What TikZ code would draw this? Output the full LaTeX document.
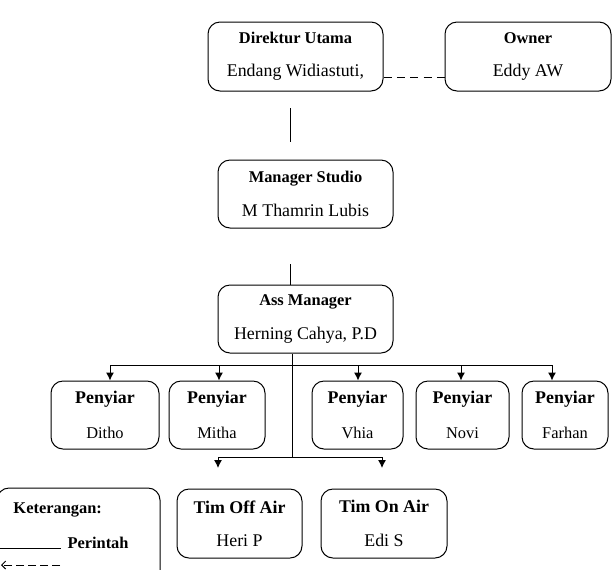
\documentclass[tikz,border=0pt]{standalone}
\usepackage{fontspec}
\setmainfont{Liberation Serif}
\usetikzlibrary{arrows.meta}

\newcommand{\kecil}{\fontsize{12.3}{15}\selectfont}
\newcommand{\besar}{\fontsize{13.4}{16}\selectfont}

\tikzset{
  jabatan/.style={draw, rounded corners=9pt, align=center, inner sep=0pt,
    minimum width=131.25pt, minimum height=51.75pt, font=\besar},
  penyiar/.style={jabatan, minimum height=51pt, font=\kecil},
  tim/.style={jabatan, minimum height=51.75pt}
}

\begin{document}
\begin{tikzpicture}[x=0.75pt,y=-0.75pt,line width=0.75pt,>={Latex[length=6pt,width=6pt]}]
  \useasboundingbox (0,0) rectangle (613,569);
  \clip (0,0) rectangle (613,569);

  % pimpinan
  \node[jabatan] (dir) at (295.5,56.5) {{\kecil\bfseries Direktur Utama}\\[9pt]Endang Widiastuti,};
  \node[jabatan, minimum width=124.5pt] (own) at (528,56.5) {{\kecil\bfseries Owner}\\[9pt]Eddy AW};
  \node[jabatan, minimum height=51pt] (mgr) at (305.5,194) {{\kecil\bfseries Manager Studio}\\[9pt]M Thamrin Lubis};
  \node[jabatan, minimum height=51pt] (ass) at (305.5,319) {{\kecil\bfseries Ass Manager}\\[9pt]Herning Cahya, P.D};

  \draw[dash pattern=on 6pt off 4pt] (dir.east |- 0,77) -- (own.west |- 0,77);
  \coordinate (d1) at (290,108);
  \coordinate (d2) at (290,142);
  \draw (d1) -- (d2);
  \coordinate (m1) at (290,264);
  \draw (m1) -- (m1 |- ass.north);

  % penyiar
  \node[penyiar, minimum width=81pt]    (p1) at (105,415)   {{\besar\bfseries Penyiar}\\[11pt]Ditho};
  \node[penyiar, minimum width=72pt]    (p2) at (217,415)   {{\besar\bfseries Penyiar}\\[11pt]Mitha};
  \node[penyiar, minimum width=68.25pt] (p3) at (357.5,415) {{\besar\bfseries Penyiar}\\[11pt]Vhia};
  \node[penyiar, minimum width=69.75pt] (p4) at (462.5,415) {{\besar\bfseries Penyiar}\\[11pt]Novi};
  \node[penyiar, minimum width=64.5pt]  (p5) at (565,415)   {{\besar\bfseries Penyiar}\\[11pt]Farhan};

  \coordinate (bus) at (292,365);
  \coordinate (cab) at (292,457);
  \draw (ass.south -| cab) -- (cab);
  \draw (bus -| 110,0) -- (bus -| 552,0);
  \foreach \n/\x in {p1/110,p2/219,p3/358,p4/461,p5/552}
    \draw[->] (bus -| \x,0) -- (\n.north -| \x,0);

  % tim
  \node[tim, minimum width=93.75pt] (toff) at (239.5,523.5) {{\besar\bfseries Tim Off Air}\\[9pt]Heri P};
  \node[tim, minimum width=94.5pt]  (ton)  at (384,523.5)   {{\besar\bfseries Tim On Air}\\[9pt]Edi S};

  \draw (cab -| 218,0) -- (cab -| 382,0);
  \draw[->] (cab -| 218,0) -- (218,468);
  \draw[->] (cab -| 382,0) -- (382,468);

  % keterangan
  \node[draw, rounded corners=9pt, minimum width=122.25pt, minimum height=91.5pt, inner sep=0pt] (ket) at (78.5,549) {};
  \node[anchor=base west, inner sep=0pt, font=\kecil\bfseries] (ketjudul) at (13,513) {Keterangan:};
  \coordinate (s1) at (-2,548);
  \coordinate (s2) at (61,548);
  \draw (s1) -- (s2);
  \node[anchor=base west, inner sep=0pt, font=\kecil\bfseries] (perintah) at (67,548) {Perintah};
  \coordinate (k1) at (60,565);
  \coordinate (k2) at (1,565);
  \draw[dash pattern=on 6pt off 3pt, -{Straight Barb[length=3pt,width=6pt]}] (k1) -- (k2);
\end{tikzpicture}
\end{document}
